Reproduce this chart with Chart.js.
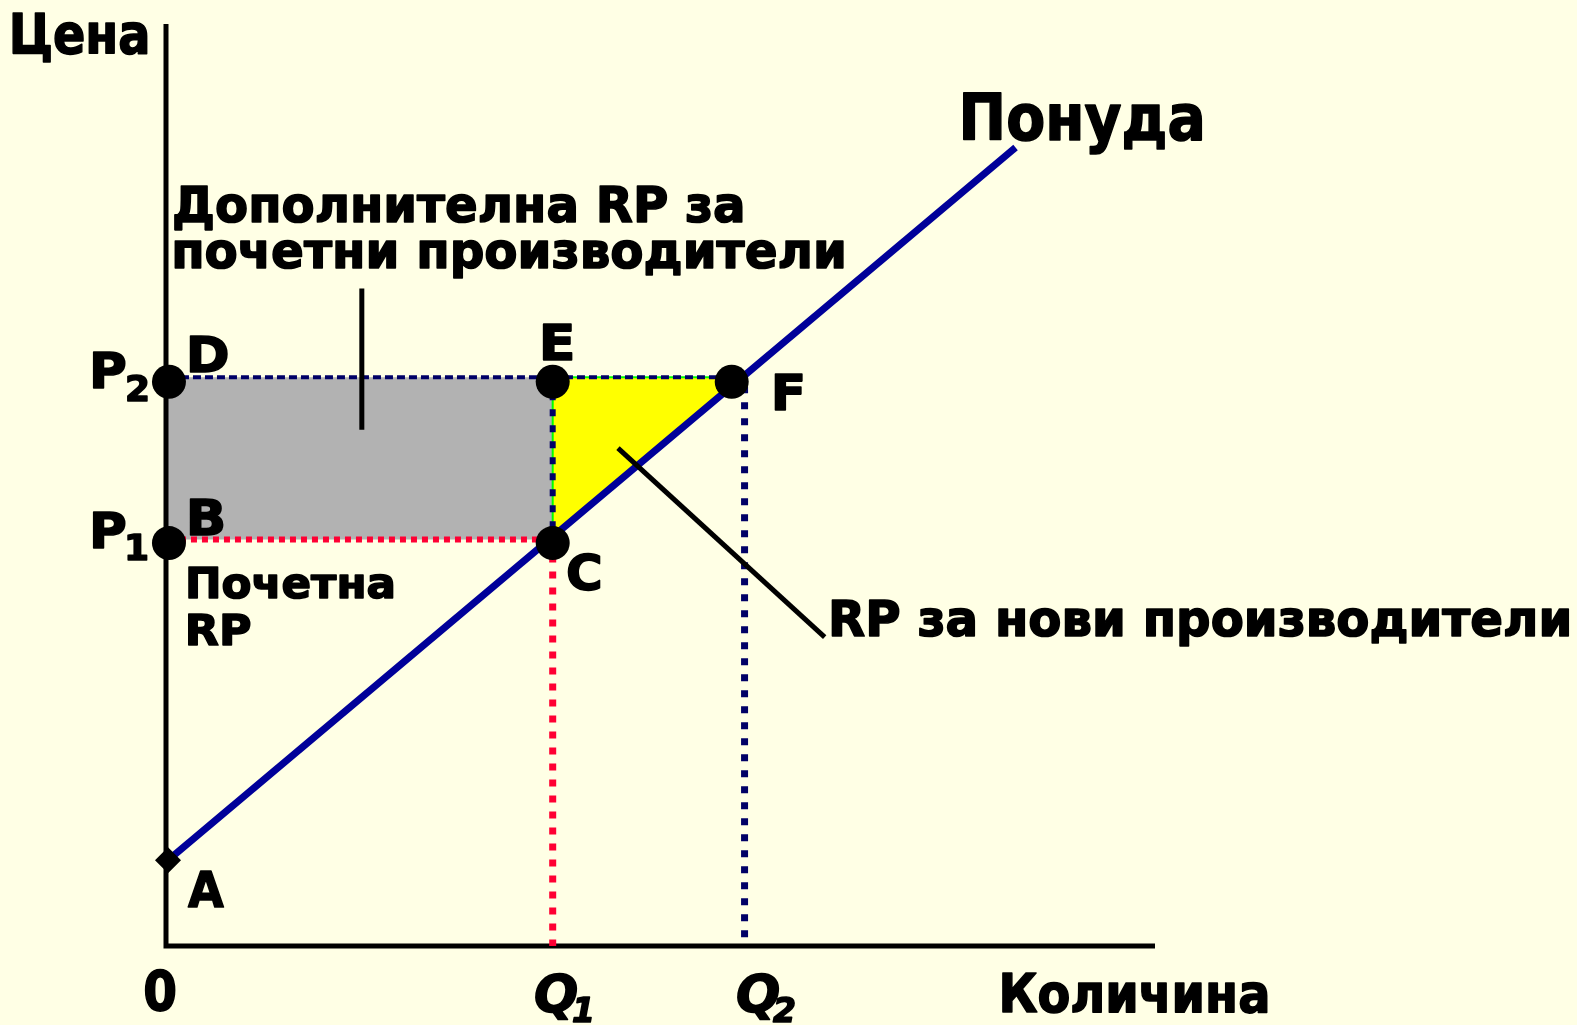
<!DOCTYPE html>
<html>
<head>
  <meta charset="UTF-8">
  <title>Понуда</title>
  <script src="https://cdn.jsdelivr.net/npm/chart.js"></script>
  <style>
    html, body {
      margin: 0;
      padding: 0;
      background: #ffffe5;
      overflow: hidden;
    }
    canvas {
      display: block;
    }
  </style>
</head>
<body>
  <canvas id="chart" width="1577" height="1025"></canvas>

  <script>
  // Values in chart units (quantity 0..10 on x, price 0..10 on y)
  const quantityQ1 = 3.91;
  const quantityQ2 = 5.85;
  const priceP1 = 4.41;
  const priceP2 = 6.17;

  // Supply curve end points (A up to the top right)
  const supplyX = [0.02, 8.59];
  const supplyY = [0.93, 8.66];

  // Marked points
  const pointNames = ['A', 'B', 'C', 'D', 'E', 'F'];
  const pointX = [0.02, 0.03, 3.91, 0.03, 3.91, 5.72];
  const pointY = [0.93, 4.37, 4.37, 6.12, 6.12, 6.12];

  // Pointer lines from the labels to the areas
  const pointerGrayX = [1.98, 1.98];
  const pointerGrayY = [7.13, 5.60];
  const pointerYellowX = [4.57, 6.66];
  const pointerYellowY = [5.40, 3.35];

  // where supply reaches P2 (corner of the yellow triangle)
  const slope = (supplyY[1] - supplyY[0]) / (supplyX[1] - supplyX[0]);
  const supplyAtP2 = supplyX[0] + (priceP2 - supplyY[0]) / slope;

  function seg(xs, ys) {
    return xs.map((x, i) => ({ x: x, y: ys[i] }));
  }

  function lineSet(data, color, width, dash, order) {
    return {
      data: data,
      showLine: true,
      borderColor: color,
      borderWidth: width,
      borderDash: dash || [],
      borderCapStyle: 'butt',
      pointRadius: 0,
      fill: false,
      clip: false,
      order: order
    };
  }

  // Text labels, placed in chart units; sizes in px
  const labels = [
    { text: 'Цена', x: -1.547, y: 9.685, size: 55, width: 134 },
    { text: 'Понуда', x: 8.059, y: 8.742, size: 64, width: 239 },
    { text: 'Дополнителна RP за', x: 0.091, y: 7.852, size: 50, width: 567 },
    { text: 'почетни производители', x: 0.091, y: 7.354, size: 50, width: 668 },
    { text: 'Почетна', x: 0.222, y: 3.774, size: 43, width: 205 },
    { text: 'RP', x: 0.222, y: 3.265, size: 43, width: 62 },
    { text: 'RP за нови производители', x: 6.734, y: 3.362, size: 49, width: 737 },
    { text: 'Количина', x: 8.453, y: -0.716, size: 53, width: 265 },
    { text: '0', x: -0.212, y: -0.694, size: 55, width: 30 },
    { text: 'Q', sub: '1', x: 3.731, y: -0.716, size: 52, width: 42, italic: true, subDx: 38, subDy: 10, subSize: 33 },
    { text: 'Q', sub: '2', x: 5.774, y: -0.716, size: 52, width: 42, italic: true, subDx: 36, subDy: 10, subSize: 33 },
    { text: 'P', sub: '2', x: -0.738, y: 6.052, size: 50, width: 32, subDx: 34, subDy: 13, subSize: 36 },
    { text: 'P', sub: '1', x: -0.738, y: 4.317, size: 50, width: 32, subDx: 35, subDy: 12, subSize: 36 },
    { text: 'D', x: 0.243, y: 6.226, size: 50, width: 37 },
    { text: 'B', x: 0.243, y: 4.458, size: 50, width: 33 },
    { text: 'E', x: 3.812, y: 6.356, size: 50, width: 29 },
    { text: 'F', x: 6.158, y: 5.813, size: 50, width: 27 },
    { text: 'C', x: 4.065, y: 3.861, size: 50, width: 32 },
    { text: 'A', x: 0.222, y: 0.423, size: 50, width: 36 }
  ];

  // draws a string with its ink starting at (px, py), squeezed to the wanted width
  function drawText(ctx, text, px, py, size, width, italic) {
    ctx.font = (italic ? 'italic ' : '') + 'bold ' + size + 'px "DejaVu Sans", sans-serif';
    const m = ctx.measureText(text);
    const ink = m.actualBoundingBoxLeft + m.actualBoundingBoxRight;
    const sx = width ? width / ink : 1;
    ctx.save();
    ctx.translate(px, py);
    ctx.scale(sx, 1);
    // a thin outline makes the strokes as heavy as the original bold face
    ctx.lineWidth = 1.6;
    ctx.lineJoin = 'round';
    ctx.strokeText(text, m.actualBoundingBoxLeft, 0);
    ctx.fillText(text, m.actualBoundingBoxLeft, 0);
    ctx.restore();
  }

  const labelPlugin = {
    id: 'labels',
    afterDatasetsDraw(chart) {
      const ctx = chart.ctx;
      const xs = chart.scales.x;
      const ys = chart.scales.y;
      ctx.save();
      ctx.fillStyle = '#000000';
      ctx.strokeStyle = '#000000';
      ctx.textBaseline = 'alphabetic';
      ctx.textAlign = 'left';
      labels.forEach(l => {
        const px = xs.getPixelForValue(l.x);
        const py = ys.getPixelForValue(l.y);
        drawText(ctx, l.text, px, py, l.size, l.width, l.italic);
        if (l.sub) {
          drawText(ctx, l.sub, px + l.subDx, py + l.subDy, l.subSize, null, l.italic);
        }
      });
      ctx.restore();
    }
  };

  const datasets = [
    // gray rectangle: extra surplus for existing producers
    Object.assign(lineSet(seg([0.02, quantityQ1, quantityQ1, 0.02, 0.02],
      [priceP1, priceP1, priceP2, priceP2, priceP1]), 'transparent', 0, null, 10),
      { fill: 'shape', backgroundColor: '#b2b2b2' }),
    // yellow triangle: surplus for new producers
    Object.assign(lineSet(seg([quantityQ1, supplyAtP2, quantityQ1, quantityQ1],
      [priceP2, priceP2, priceP1, priceP2]), '#00ff00', 2, null, 9),
      { fill: 'shape', backgroundColor: '#ffff00' }),
    // axes
    Object.assign(lineSet(seg([0, 0, 10], [10, 0, 0]), '#000000', 5, null, 8),
      { borderJoinStyle: 'miter' }),
    // dotted guides
    lineSet(seg([0.03, pointX[5]], [priceP2, priceP2]), '#000066', 4, [8, 4], 7),
    lineSet(seg([quantityQ1, quantityQ1], [priceP2, priceP1]), '#000066', 6, [7, 9], 7),
    lineSet(seg([quantityQ2, quantityQ2], [priceP2 - 0.1, 0]), '#000066', 7, [7, 9], 7),
    lineSet(seg([0.03, quantityQ1], [priceP1, priceP1]), '#ff0033', 6, [6, 5], 7),
    lineSet(seg([quantityQ1, quantityQ1], [priceP1, 0]), '#ff0033', 7, [7, 9], 7),
    // supply
    lineSet(seg(supplyX, supplyY), '#000099', 7, null, 6),
    // pointers
    lineSet(seg(pointerGrayX, pointerGrayY), '#000000', 5, null, 5),
    lineSet(seg(pointerYellowX, pointerYellowY), '#000000', 5, null, 5),
    // points A..F
    {
      data: seg(pointX, pointY),
      showLine: false,
      pointRadius: pointNames.map(n => n === 'A' ? 13 : 17),
      pointStyle: pointNames.map(n => n === 'A' ? 'rectRot' : 'circle'),
      pointBackgroundColor: '#000000',
      pointBorderColor: '#000000',
      pointBorderWidth: 0,
      clip: false,
      order: 1
    }
  ];

  new Chart(document.getElementById('chart'), {
    type: 'scatter',
    data: { datasets: datasets },
    options: {
      responsive: false,
      animation: false,
      devicePixelRatio: 1,
      events: [],
      layout: { padding: { left: 166, right: 422, top: 24, bottom: 79 } },
      plugins: {
        legend: { display: false },
        tooltip: { enabled: false }
      },
      scales: {
        x: { type: 'linear', min: 0, max: 10, display: false },
        y: { type: 'linear', min: 0, max: 10, display: false }
      }
    },
    plugins: [labelPlugin]
  });
  </script>
</body>
</html>
